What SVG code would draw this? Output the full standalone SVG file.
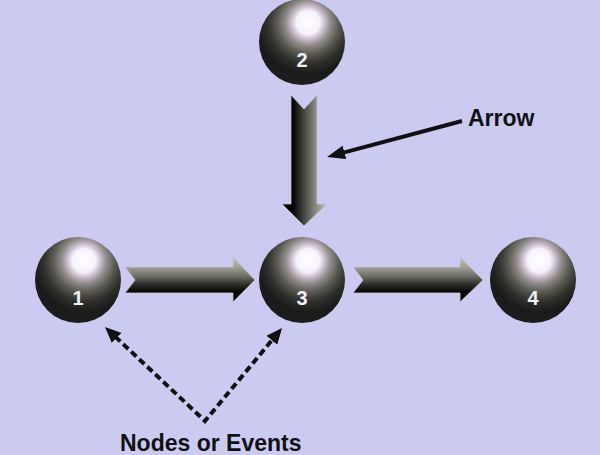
<svg xmlns="http://www.w3.org/2000/svg" width="600" height="455" viewBox="0 0 600 455">
<defs>
<style>
.ball{fill:url(#sphere)}
.num{font-family:"Liberation Sans",Arial,sans-serif;font-weight:bold;font-size:20px;fill:#f0f0f8;text-anchor:middle}
.lbl{font-family:"Liberation Sans",Arial,sans-serif;font-weight:bold;font-size:23px;fill:#111111}
.harrow{fill:url(#hgrad);stroke:#c8c8c8;stroke-width:0.8}
.varrow{fill:url(#vgrad);stroke:#c8c8c8;stroke-width:0.8}
.pointer{fill:none;stroke:#111111;stroke-width:4}
.dash{fill:none;stroke:#111111;stroke-width:4;stroke-dasharray:7 4}
</style>
<radialGradient id="sphere" cx="0.57" cy="0.29" r="0.72" fx="0.57" fy="0.27">
<stop offset="0" stop-color="#ffffff"/>
<stop offset="0.19" stop-color="#f6f2fc"/>
<stop offset="0.27" stop-color="#cbbccc"/>
<stop offset="0.37" stop-color="#8e8a86"/>
<stop offset="0.5" stop-color="#5a5a52"/>
<stop offset="0.66" stop-color="#2e2e2a"/>
<stop offset="0.82" stop-color="#1a1a1a"/>
<stop offset="1" stop-color="#1e1e1e"/>
</radialGradient>
<linearGradient id="hgrad" x1="0" y1="0" x2="0" y2="1">
<stop offset="0" stop-color="#c4c4c0"/>
<stop offset="0.25" stop-color="#9a9a92"/>
<stop offset="0.42" stop-color="#707068"/>
<stop offset="0.62" stop-color="#2a2a28"/>
<stop offset="0.78" stop-color="#050505"/>
<stop offset="1" stop-color="#000000"/>
</linearGradient>
<linearGradient id="vgrad" x1="0" y1="0" x2="1" y2="0">
<stop offset="0" stop-color="#000000"/>
<stop offset="0.25" stop-color="#050505"/>
<stop offset="0.5" stop-color="#4a4a44"/>
<stop offset="0.75" stop-color="#8a8a82"/>
<stop offset="1" stop-color="#c0c0c0"/>
</linearGradient>
<marker id="head" viewBox="0 -7 18 14" refX="2" refY="0" markerWidth="18" markerHeight="14" markerUnits="userSpaceOnUse" orient="auto-start-reverse">
<path d="M0,-7 L18,0 L0,7 z" fill="#111111"/>
</marker>
<marker id="dhead" viewBox="0 -7 16 14" refX="2" refY="0" markerWidth="16" markerHeight="14" markerUnits="userSpaceOnUse" orient="auto-start-reverse">
<path d="M0,-7 L16,0 L0,7 z" fill="#111111"/>
</marker>
</defs>
<rect width="600" height="455" fill="#cbcbf1"/>
<g id="connectors">
<polygon class="varrow" points="291,95 304,109 317,95 317,204 327,204 304,226 282,204 291,204"/>
<polygon class="harrow" points="125,267 233,267 233,257 255,280 233,302 233,293 125,293 135,280"/>
<polygon class="harrow" points="353,267 460,267 460,257 483,280 460,302 460,293 353,293 363,280"/>
<line class="pointer" x1="462" y1="121" x2="342.5" y2="152.9" marker-end="url(#head)"/>
<path class="dash" d="M115.2,336.6 L205,421 L273.1,338.8" marker-start="url(#dhead)" marker-end="url(#dhead)"/>
</g>
<g id="node-2"><circle class="ball" cx="302" cy="42" r="43"/><text class="num" x="302" y="67">2</text></g>
<g id="node-1"><circle class="ball" cx="78" cy="280" r="43"/><text class="num" x="78" y="305">1</text></g>
<g id="node-3"><circle class="ball" cx="302" cy="280" r="43"/><text class="num" x="302" y="305">3</text></g>
<g id="node-4"><circle class="ball" cx="533" cy="280" r="43"/><text class="num" x="533" y="305">4</text></g>
<g id="label-arrow"><text class="lbl" x="468" y="126">Arrow</text></g>
<g id="label-nodes"><text class="lbl" x="120" y="451">Nodes or Events</text></g>
</svg>
